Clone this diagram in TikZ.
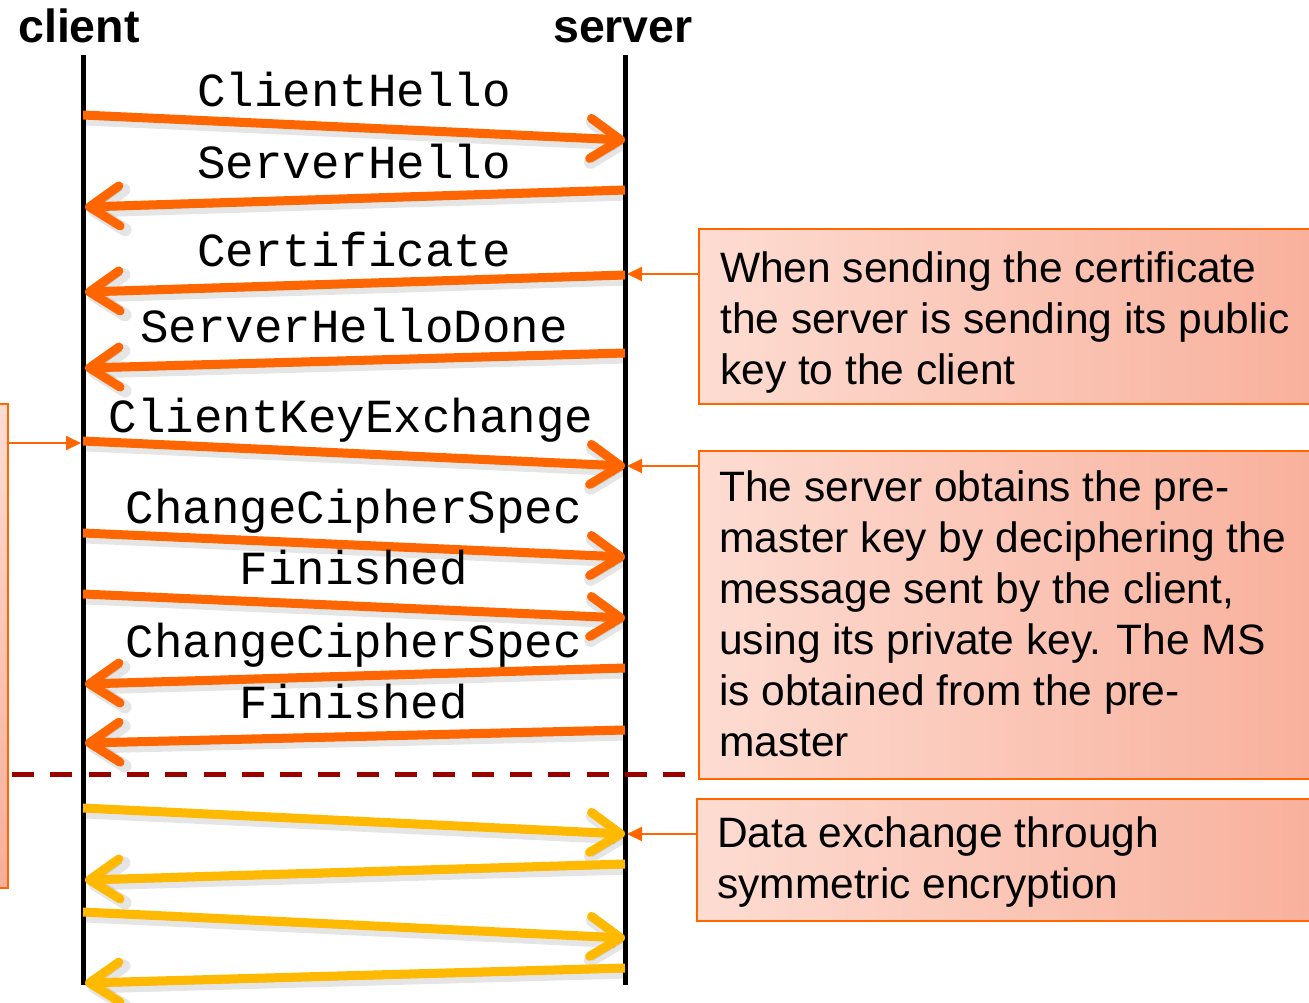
\documentclass[tikz,border=0pt]{standalone}
\usepackage{fontspec}
\setmainfont{Liberation Sans}
\setmonofont{Liberation Mono}
\usetikzlibrary{arrows.meta}

\definecolor{tlsorange}{HTML}{FF6600}
\definecolor{tlsyellow}{HTML}{FFB900}
\definecolor{splitred}{HTML}{990000}
\definecolor{notelight}{HTML}{FDDCD2}
\definecolor{notedark}{HTML}{F8AE99}

\begin{document}
\begin{tikzpicture}[x=1pt,y=-1pt,
  head/.style={font=\fontsize{46.5}{50}\selectfont\bfseries, inner sep=0pt, anchor=base},
  lbl/.style={font=\fontsize{47.5}{50}\selectfont\ttfamily, inner sep=0pt, anchor=base},
  lifeline/.style={line width=5pt, draw=black},
  shadowed/.style={
    preaction={draw=black, draw opacity=0.10, line width=13pt,
      transform canvas={shift={(3pt,-4pt)}}},
    preaction={draw=black, draw opacity=0.22,
      transform canvas={shift={(3pt,-4pt)}}}},
  msgline/.style={line width=9pt, shadowed,
    -{Straight Barb[length=30pt,width=40pt,round]}},
  msg/.style={msgline, draw=tlsorange},
  datamsg/.style={msgline, draw=tlsyellow},
  notebox/.style={draw=tlsorange, line width=2pt, inner sep=0pt,
    left color=notelight, right color=notedark},
  % multi-line text is anchored at the baseline of its last line
  notetext/.style={font=\fontsize{42.5}{51}\selectfont, inner sep=0pt,
    align=left, anchor=base west},
  notearrow/.style={draw=tlsorange, line width=2pt,
    -{Triangle[length=15pt,width=14pt]}},
  split/.style={draw=splitred, line width=5pt, dash pattern=on 22pt off 16.3pt}
]
\path[use as bounding box] (0,0) rectangle (1309,1002);
\clip (0,0) rectangle (1309,1002);

% side note box on the left edge
\node[draw=tlsorange, line width=2pt, inner sep=0pt,
      top color=notelight, bottom color=notedark,
      minimum width=80pt, minimum height=484pt, anchor=north east]
  (leftnote) at (9,403) {};

% note boxes on the right
\node[notebox, minimum width=650pt, minimum height=175pt, anchor=north west]
  (note1) at (698,228) {};
\node[notebox, minimum width=650pt, minimum height=328pt, anchor=north west]
  (note2) at (698,450) {};
\node[notebox, minimum width=650pt, minimum height=122pt, anchor=north west]
  (note3) at (696,798) {};

\node[notetext] (note1text) at (720,384)
  {When sending the certificate\\the server is sending its public\\key to the client};
\node[notetext] (note2text) at (719,756)
  {The server obtains the pre-\\master key by deciphering the\\message sent by the client,\\using its private key. The MS\\is obtained from the pre-\\master};
\node[notetext] (note3text) at (717,898)
  {Data exchange through\\symmetric encryption};

% lifelines
\node[head] (client) at (79,42) {client};
\node[head] (server) at (623,42) {server};
\coordinate (ctop) at (83,55);
\coordinate (cbot) at (83,985);
\coordinate (stop) at (625,55);
\coordinate (sbot) at (625,985);
\draw[lifeline] (ctop) -- (cbot);
\draw[lifeline] (stop) -- (sbot);

% end points of the messages on both lifelines
\foreach \i/\cy/\sy in {1/115/140, 2/207/190, 3/292/275, 4/368/353,
                        5/441/466, 6/533/557, 7/594/618, 8/684/668,
                        9/743/730, 10/808/834, 11/880/864, 12/912/938,
                        13/983/968}{
  \coordinate (c\i) at (83,\cy);
  \coordinate (s\i) at (625,\sy);
}

% handshake messages
\foreach \i in {1,5,6,7} \draw[msg] (c\i) -- (s\i);
\foreach \i in {2,3,4,8,9} \draw[msg] (s\i) -- ([xshift=2pt]c\i);
% encrypted data
\foreach \i in {10,12} \draw[datamsg] (c\i) -- (s\i);
\foreach \i in {11,13} \draw[datamsg] (s\i) -- ([xshift=2pt]c\i);

% message names
\node[lbl] (m1) at (354,106) {ClientHello};
\node[lbl] (m2) at (354,178) {ServerHello};
\node[lbl] (m3) at (354,266) {Certificate};
\node[lbl] (m4) at (354,342) {ServerHelloDone};
\node[lbl] (m5) at (351,432) {ClientKeyExchange};
\node[lbl] (m6) at (354,523) {ChangeCipherSpec};
\node[lbl] (m7) at (354,584) {Finished};
\node[lbl] (m8) at (354,657) {ChangeCipherSpec};
\node[lbl] (m9) at (354,718) {Finished};

% end of the handshake
\coordinate (splitL) at (12,774);
\coordinate (splitR) at (686,774);
\draw[split] (splitL) -- (splitR);

% pointers from the notes
\coordinate (n1a) at (698,274);  \coordinate (n1b) at (627,274);
\coordinate (n2a) at (698,466);  \coordinate (n2b) at (627,466);
\coordinate (n3a) at (696,834);  \coordinate (n3b) at (627,834);
\coordinate (lna) at (9,443);    \coordinate (lnb) at (81,443);
\draw[notearrow] (n1a) -- (n1b);
\draw[notearrow] (n2a) -- (n2b);
\draw[notearrow] (n3a) -- (n3b);
\draw[notearrow] (lna) -- (lnb);
\end{tikzpicture}
\end{document}
